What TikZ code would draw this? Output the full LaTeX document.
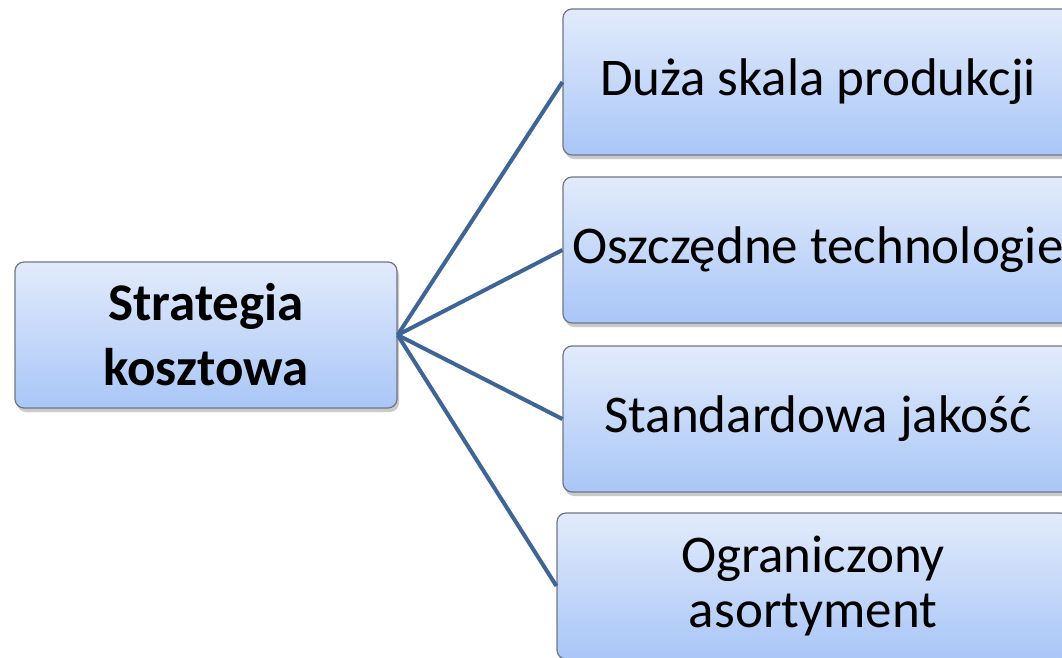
\documentclass[tikz,border=0pt]{standalone}
\usepackage{fontspec}
\setmainfont{Carlito}
\usetikzlibrary{shadows}
\definecolor{boxtop}{HTML}{E2EBFB}
\definecolor{boxbot}{HTML}{A9C6F7}
\definecolor{boxedge}{HTML}{6E7684}
\definecolor{linkblue}{HTML}{3F6597}
\tikzset{
  box/.style={rectangle, rounded corners=9pt, draw=boxedge, line width=1.2pt,
    top color=boxtop, bottom color=boxbot, minimum height=146pt,
    align=center, inner sep=0pt, font=\fontsize{53}{55}\selectfont,
    drop shadow={shadow xshift=2pt, shadow yshift=-4pt, opacity=0.35, fill=black!60}},
  link/.style={draw=linkblue, line width=4pt}
}
\begin{document}
\begin{tikzpicture}[x=1pt,y=-1pt]
\useasboundingbox (0,0) rectangle (1062,658);
\node[box, minimum width=382pt, font=\fontsize{53}{65}\selectfont\bfseries] (L) at (206,335) {Strategia\\kosztowa};
\node[box, minimum width=510pt] (R1) at (818,82) {Duża skala produkcji};
\node[box, minimum width=510pt] (R2) at (818,250) {Oszczędne technologie};
\node[box, minimum width=510pt] (R3) at (818,419) {Standardowa jakość};
\node[box, minimum width=512pt] (R4) at (813,586) {Ograniczony\\asortyment};
\foreach \r in {R1,R2,R3,R4} \draw[link] (L.east) -- (\r.west);
\end{tikzpicture}
\end{document}
